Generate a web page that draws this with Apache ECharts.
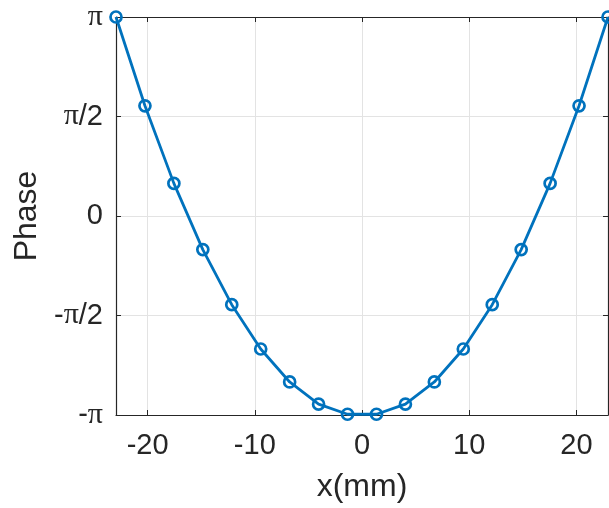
<!DOCTYPE html>
<html>
<head>
<meta charset="utf-8">
<script src="https://cdn.jsdelivr.net/npm/echarts@6/dist/echarts.min.js"></script>
<style>html,body{margin:0;padding:0;background:#fff;}#c{width:609px;height:508px;}</style>
</head>
<body>
<div id="c"></div>
<script>
const xValues = [-22.95, -20.25, -17.55, -14.85, -12.15, -9.45, -6.75, -4.05, -1.35, 1.35, 4.05, 6.75, 9.45, 12.15, 14.85, 17.55, 20.25, 22.95];
const phaseValues = [3.1416, 1.74, 0.515, -0.53, -1.40, -2.10, -2.62, -2.97, -3.13, -3.13, -2.97, -2.62, -2.10, -1.40, -0.53, 0.515, 1.74, 3.1416];
const xTicks = [-20, -10, 0, 10, 20];
const yTickLabels = ['-π', '-π/2', '0', 'π/2', 'π'];
const xLabel = 'x(mm)';
const yLabel = 'Phase';

const PI = Math.PI;
const axisColor = '#262626';
const gridColor = '#e3e3e3';
const blue = '#0072BD';
const sansFont = '"Liberation Sans", Arial, sans-serif';

function yFmt(v) {
  const k = Math.round(v / (PI / 2)) + 2;
  const s = yTickLabels[k] || '';
  return s.replace(/π/g, '{pi|π}');
}

const chart = echarts.init(document.getElementById('c'), null, {renderer: 'canvas'});
chart.setOption({
  animation: false,
  backgroundColor: '#fff',
  grid: {left: 116, right: 1, top: 17, bottom: 92, containLabel: false},
  xAxis: [{
    type: 'value', min: -22.95, max: 22.95, position: 'bottom',
    name: xLabel, nameLocation: 'middle', nameGap: 56,
    nameTextStyle: {fontFamily: sansFont, fontSize: 32, color: axisColor},
    axisLine: {show: true, onZero: false, lineStyle: {color: axisColor, width: 1.2}},
    axisTick: {show: true, inside: true, length: 5, customValues: xTicks, lineStyle: {color: axisColor}},
    axisLabel: {customValues: xTicks, margin: 16, fontFamily: sansFont, fontSize: 29, color: axisColor},
    splitLine: {show: true, lineStyle: {color: gridColor, width: 1}}
  }, {
    type: 'value', min: -22.95, max: 22.95, position: 'top',
    axisLine: {show: true, onZero: false, lineStyle: {color: axisColor, width: 1.2}},
    axisTick: {show: true, inside: true, length: 5, customValues: xTicks, lineStyle: {color: axisColor}},
    axisLabel: {show: false},
    splitLine: {show: false}
  }],
  yAxis: [{
    type: 'value', min: -PI, max: PI, interval: PI / 2, position: 'left',
    name: yLabel, nameLocation: 'middle', nameGap: 71, nameRotate: 90,
    nameTextStyle: {fontFamily: sansFont, fontSize: 32, color: axisColor},
    axisLine: {show: true, onZero: false, lineStyle: {color: axisColor, width: 1.2}},
    axisTick: {show: true, inside: true, length: 5, lineStyle: {color: axisColor}},
    axisLabel: {
      margin: 13, fontFamily: sansFont, fontSize: 29, color: axisColor,
      formatter: yFmt,
      rich: {pi: {fontFamily: '"Liberation Serif", "DejaVu Serif", serif', fontSize: 30, color: axisColor}}
    },
    splitLine: {show: true, lineStyle: {color: gridColor, width: 1}}
  }, {
    type: 'value', min: -PI, max: PI, interval: PI / 2, position: 'right',
    axisLine: {show: true, onZero: false, lineStyle: {color: axisColor, width: 1.2}},
    axisTick: {show: true, inside: true, length: 5, lineStyle: {color: axisColor}},
    axisLabel: {show: false},
    splitLine: {show: false}
  }],
  series: [{
    type: 'line',
    xAxisIndex: 0, yAxisIndex: 0,
    data: xValues.map((x, i) => [x, phaseValues[i]]),
    symbol: 'circle', symbolSize: 11,
    lineStyle: {color: blue, width: 2.8},
    itemStyle: {color: 'rgba(0,0,0,0)', borderColor: blue, borderWidth: 2.7},
    clip: false, z: 5
  }]
});
</script>
</body>
</html>
